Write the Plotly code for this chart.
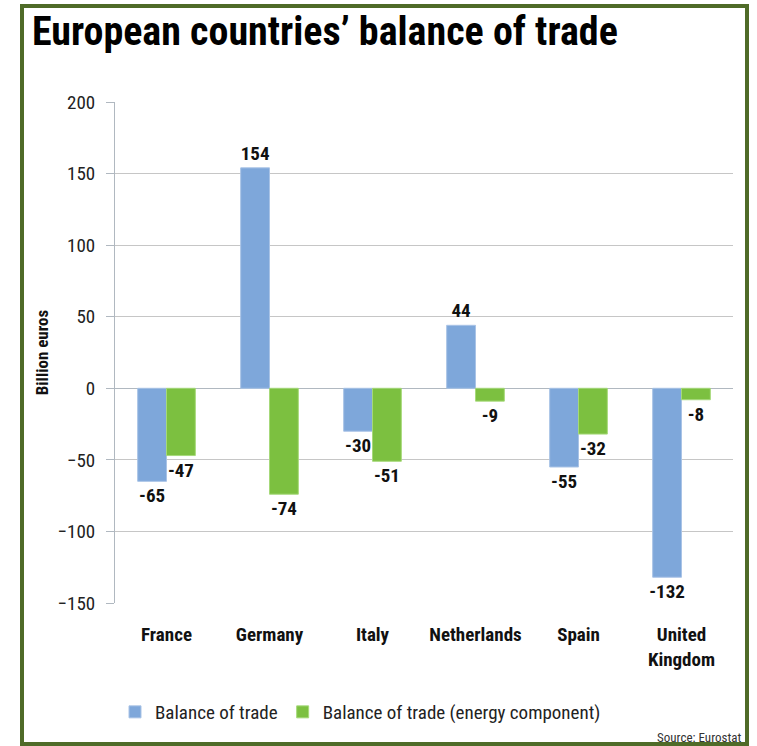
import plotly.graph_objects as go

categories = ["France", "Germany", "Italy", "Netherlands", "Spain", "United<br>Kingdom"]
balance = [-65, 154, -30, 44, -55, -132]
energy = [-47, -74, -51, -9, -32, -8]
y_ticks = [-150, -100, -50, 0, 50, 100, 150, 200]

FONT = "Liberation Sans Narrow, Arial Narrow, Roboto Condensed, Arial, sans-serif"

fig = go.Figure()
fig.add_trace(go.Bar(
    x=categories, y=balance, name="Balance of trade",
    marker=dict(color="#7ea7da", line=dict(color="#a9c3e6", width=1)),
    text=[f"<b>{v}</b>" for v in balance], textposition="outside",
    textfont=dict(family=FONT, size=19, color="#111111"),
    cliponaxis=False, constraintext="none",
))
fig.add_trace(go.Bar(
    x=categories, y=energy, name="Balance of trade (energy component)",
    marker=dict(color="#7cc040", line=dict(color="#a6d97a", width=1)),
    text=[f"<b>{v}</b>" for v in energy], textposition="outside",
    textfont=dict(family=FONT, size=19, color="#111111"),
    cliponaxis=False, constraintext="none",
))

L, R, T, B = 115, 24, 102, 143
W, H = 757, 746
pw, ph = W - L - R, H - T - B

def px2x(px):
    return (px - L) / pw

def py2y(py):
    return (H - B - py) / ph

fig.update_layout(
    width=W, height=H,
    margin=dict(l=L, r=R, t=T, b=B),
    paper_bgcolor="white", plot_bgcolor="white",
    barmode="group", bargap=0.44, bargroupgap=0.0,
    font=dict(family=FONT, color="#111111"),
    title=dict(
        text="<b>European countries’ balance of trade</b>",
        x=32 / W, xref="container", xanchor="left",
        y=1 - 31 / H, yref="container", yanchor="middle",
        font=dict(family=FONT, size=40, color="#000000"),
    ),
    showlegend=True,
    legend=dict(
        orientation="h", x=px2x(115), y=py2y(712), xanchor="left", yanchor="middle",
        font=dict(family=FONT, size=19, color="#222222"),
        itemwidth=30, tracegroupgap=0,
    ),
    xaxis=dict(
        showgrid=False, showline=False, zeroline=False,
        tickfont=dict(family=FONT, size=19, color="#111111"),
        ticks="", tickprefix="<b>", ticksuffix="</b>",
        ticklabelstandoff=18,
    ),
    yaxis=dict(
        range=[-150, 200], tickvals=y_ticks,
        showgrid=True, gridcolor="#c6c6c6", gridwidth=1,
        zeroline=True, zerolinecolor="#b0b8c0", zerolinewidth=1,
        showline=True, linecolor="#b0b8c0", linewidth=1,
        ticks="outside", ticklen=8, tickcolor="#b0b8c0",
        ticklabelstandoff=7,
        tickfont=dict(family=FONT, size=19, color="#222222"),
        title=dict(text="<b>Billion euros</b>", font=dict(family=FONT, size=17, color="#111111"), standoff=4),
    ),
    shapes=[
        dict(type="rect", xref="paper", yref="paper",
             x0=px2x(22), x1=px2x(747), y0=py2y(744), y1=py2y(6),
             line=dict(color="#4f6b28", width=4), fillcolor="rgba(0,0,0,0)", layer="above"),
    ],
    annotations=[
        dict(text="Source: Eurostat", xref="paper", yref="paper",
             x=px2x(744), y=py2y(737), xanchor="right", yanchor="middle",
             showarrow=False, font=dict(family=FONT, size=13, color="#333333")),
    ],
)

fig.write_html("out.html", config={"displayModeBar": False},
               post_script="document.body.style.margin='0px';document.body.style.padding='0px';")
